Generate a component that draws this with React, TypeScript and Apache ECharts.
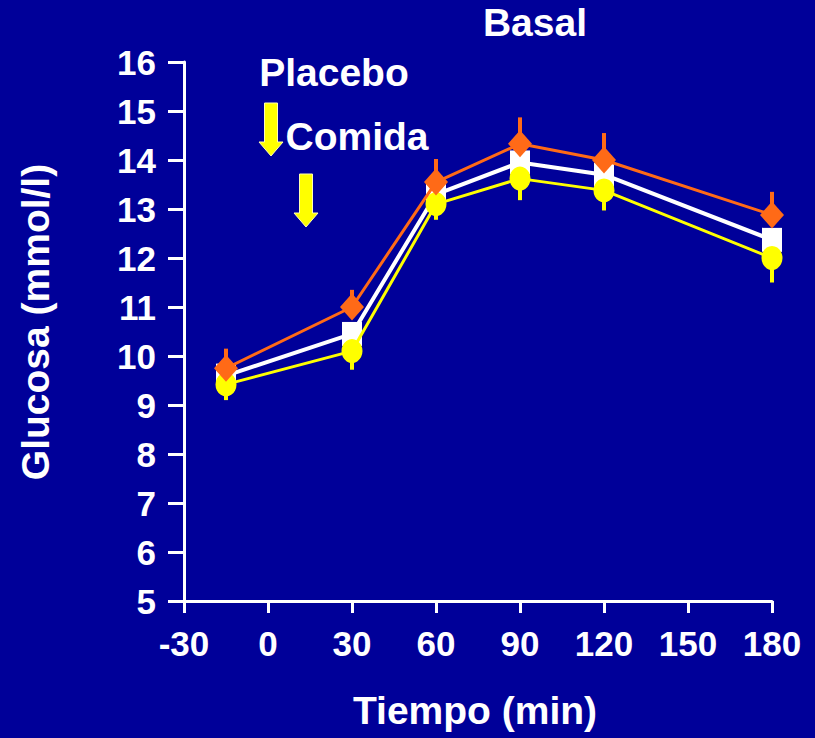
import React, { useEffect, useRef } from "react";
import * as echarts from "echarts";

const times = [-15, 30, 60, 90, 120, 180];
const orangeValues = [9.75, 11.0, 13.55, 14.33, 14.0, 12.88];
const orangeUpper = [10.15, 11.35, 14.02, 14.87, 14.55, 13.35];
const whiteValues = [9.6, 10.45, 13.3, 13.95, 13.7, 12.37];
const yellowValues = [9.42, 10.1, 13.1, 13.62, 13.38, 12.0];
const yellowLower = [9.1, 9.72, 12.78, 13.18, 12.97, 11.5];

const xTicks = { min: -30, max: 180, interval: 30 };
const yTicks = { min: 5, max: 16, interval: 1 };

const BG = "#000099";
const ORANGE = "#FF6A17";
const YELLOW = "#FFFF00";
const WHITE = "#FFFFFF";
const FONT = "'Liberation Sans', Arial, sans-serif";

function pairs(xs: number[], ys: number[]) {
  return xs.map((x, i) => [x, ys[i]]);
}

function errData(xs: number[], ys: number[], es: number[]) {
  return xs.map((x, i) => [x, ys[i], es[i]]);
}

function errSeries(data: number[][], color: string, z: number) {
  return {
    type: "custom",
    z,
    silent: true,
    data,
    renderItem: (params: any, api: any) => {
      const p1 = api.coord([api.value(0), api.value(1)]);
      const p2 = api.coord([api.value(0), api.value(2)]);
      return {
        type: "line",
        shape: { x1: p1[0], y1: p1[1], x2: p2[0], y2: p2[1] },
        style: { stroke: color, lineWidth: 4 },
      };
    },
  };
}

function arrow(cx: number, top: number, headStart: number, tip: number) {
  const sw = 6.5;
  const hw = 12;
  return {
    type: "polygon",
    shape: {
      points: [
        [cx - sw, top],
        [cx + sw, top],
        [cx + sw, headStart],
        [cx + hw, headStart],
        [cx, tip],
        [cx - hw, headStart],
        [cx - sw, headStart],
      ],
    },
    style: { fill: YELLOW, stroke: "#FFFFB0", lineWidth: 1 },
    z: 10,
  };
}

export default function App() {
  const ref = useRef<HTMLDivElement>(null);
  useEffect(() => {
    if (!ref.current) return;
    const chart = echarts.init(ref.current, undefined, { renderer: "svg" });
    const titleStyle = {
      fill: WHITE,
      font: `bold 39px ${FONT}`,
    };
    chart.setOption({
      animation: false,
      backgroundColor: BG,
      grid: { left: 184, right: 43, top: 62, bottom: 137 },
      xAxis: {
        type: "value",
        min: xTicks.min,
        max: xTicks.max,
        interval: xTicks.interval,
        axisLine: { show: true, onZero: false, lineStyle: { color: WHITE, width: 3 } },
        axisTick: { show: true, inside: false, length: 12, lineStyle: { color: WHITE, width: 3 } },
        axisLabel: {
          color: WHITE,
          fontFamily: FONT,
          fontWeight: "bold",
          fontSize: 35,
          margin: 25,
        },
        splitLine: { show: false },
      },
      yAxis: {
        type: "value",
        min: yTicks.min,
        max: yTicks.max,
        interval: yTicks.interval,
        axisLine: { show: true, onZero: false, lineStyle: { color: WHITE, width: 3 } },
        axisTick: { show: true, inside: false, length: 16, lineStyle: { color: WHITE, width: 3 } },
        axisLabel: {
          color: WHITE,
          fontFamily: FONT,
          fontWeight: "bold",
          fontSize: 35,
          margin: 28,
        },
        splitLine: { show: false },
      },
      graphic: [
        { type: "text", style: { ...titleStyle, text: "Basal", x: 535, y: 22, align: "center", verticalAlign: "middle" } },
        { type: "text", style: { ...titleStyle, text: "Placebo", x: 334, y: 72, align: "center", verticalAlign: "middle" } },
        { type: "text", style: { ...titleStyle, text: "Comida", x: 357, y: 136, align: "center", verticalAlign: "middle" } },
        { type: "text", style: { ...titleStyle, text: "Tiempo (min)", x: 475, y: 710, align: "center", verticalAlign: "middle" } },
        {
          type: "text",
          x: 35,
          y: 322,
          rotation: Math.PI / 2,
          style: { ...titleStyle, text: "Glucosa (mmol/l)", x: 0, y: 0, align: "center", verticalAlign: "middle" },
        },
        arrow(271, 103, 142, 156),
        arrow(306, 174, 213, 227),
      ],
      series: [
        {
          type: "line",
          z: 2,
          data: pairs(times, whiteValues),
          symbol: "rect",
          symbolSize: [20, 24],
          showAllSymbol: true,
          lineStyle: { color: WHITE, width: 4 },
          itemStyle: { color: WHITE },
        },
        errSeries(errData(times, yellowValues, yellowLower), YELLOW, 3),
        {
          type: "line",
          z: 4,
          data: pairs(times, yellowValues),
          symbol: "circle",
          symbolSize: [21, 24],
          showAllSymbol: true,
          lineStyle: { color: YELLOW, width: 3 },
          itemStyle: { color: YELLOW },
        },
        errSeries(errData(times, orangeValues, orangeUpper), ORANGE, 5),
        {
          type: "line",
          z: 6,
          data: pairs(times, orangeValues),
          symbol: "diamond",
          symbolSize: [24, 27],
          showAllSymbol: true,
          lineStyle: { color: ORANGE, width: 3 },
          itemStyle: { color: ORANGE },
        },
      ],
    });
    return () => chart.dispose();
  }, []);
  return <div ref={ref} style={{ width: 815, height: 738, position: "absolute", left: 0, top: 0 }} />;
}
